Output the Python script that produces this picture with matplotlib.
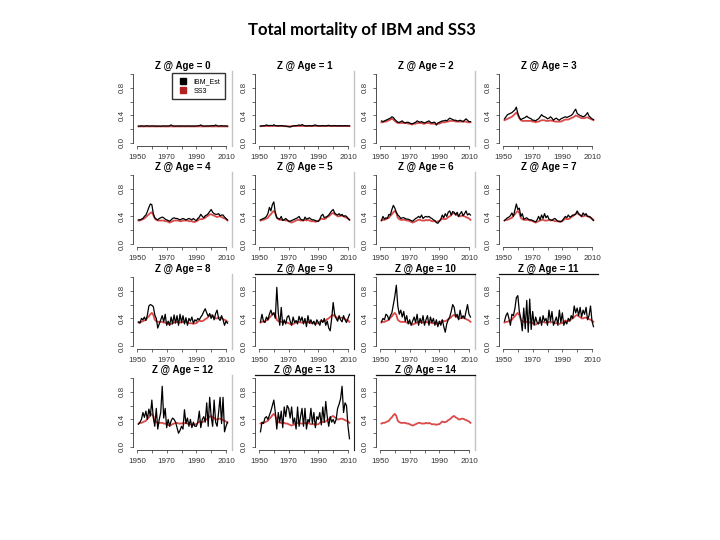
import matplotlib
matplotlib.use('Agg')
import matplotlib.pyplot as plt
from matplotlib.lines import Line2D

# years of the yearly series
years = list(range(1951, 2012))

# IBM estimates, by age
ibm_age0 = [0.245, 0.245, 0.248, 0.246, 0.245, 0.247, 0.250, 0.246, 0.245, 0.248,
            0.246, 0.245, 0.247, 0.244, 0.245, 0.243, 0.246, 0.248, 0.245, 0.247,
            0.246, 0.250, 0.262, 0.248, 0.246, 0.245, 0.247, 0.246, 0.248, 0.245,
            0.246, 0.247, 0.245, 0.248, 0.246, 0.245, 0.247, 0.246, 0.245, 0.247,
            0.248, 0.252, 0.262, 0.248, 0.246, 0.245, 0.247, 0.246, 0.248, 0.250,
            0.252, 0.248, 0.262, 0.250, 0.246, 0.247, 0.252, 0.246, 0.248, 0.246,
            0.245]
ibm_age1 = [0.245, 0.248, 0.250, 0.252, 0.262, 0.255, 0.250, 0.256, 0.250, 0.265,
            0.252, 0.250, 0.248, 0.250, 0.252, 0.250, 0.246, 0.244, 0.240, 0.236,
            0.232, 0.240, 0.248, 0.250, 0.252, 0.254, 0.262, 0.252, 0.268, 0.255,
            0.250, 0.248, 0.250, 0.252, 0.248, 0.250, 0.256, 0.262, 0.252, 0.250,
            0.248, 0.250, 0.252, 0.248, 0.250, 0.252, 0.256, 0.250, 0.248, 0.250,
            0.252, 0.250, 0.248, 0.250, 0.252, 0.248, 0.250, 0.252, 0.248, 0.250,
            0.248]
ibm_age2 = [0.32, 0.31, 0.32, 0.33, 0.34, 0.35, 0.36, 0.38, 0.37, 0.34,
            0.32, 0.30, 0.30, 0.31, 0.32, 0.30, 0.29, 0.30, 0.30, 0.29,
            0.28, 0.28, 0.29, 0.30, 0.32, 0.31, 0.30, 0.31, 0.30, 0.29,
            0.30, 0.31, 0.32, 0.30, 0.29, 0.30, 0.30, 0.26, 0.29, 0.30,
            0.31, 0.32, 0.32, 0.33, 0.32, 0.34, 0.36, 0.35, 0.34, 0.33,
            0.33, 0.32, 0.32, 0.33, 0.32, 0.31, 0.33, 0.35, 0.33, 0.31,
            0.31]
ibm_age3 = [0.35, 0.38, 0.41, 0.42, 0.43, 0.44, 0.46, 0.48, 0.52, 0.43,
            0.37, 0.34, 0.35, 0.36, 0.37, 0.39, 0.37, 0.36, 0.35, 0.33,
            0.33, 0.32, 0.34, 0.35, 0.38, 0.41, 0.39, 0.38, 0.37, 0.35,
            0.36, 0.38, 0.36, 0.33, 0.35, 0.36, 0.34, 0.33, 0.35, 0.36,
            0.37, 0.38, 0.37, 0.38, 0.39, 0.40, 0.42, 0.46, 0.49, 0.43,
            0.41, 0.40, 0.39, 0.38, 0.39, 0.41, 0.44, 0.39, 0.37, 0.35,
            0.34]
ibm_age4 = [0.35, 0.35, 0.36, 0.37, 0.40, 0.42, 0.47, 0.53, 0.58, 0.57,
            0.44, 0.38, 0.36, 0.35, 0.37, 0.38, 0.39, 0.38, 0.36, 0.35,
            0.34, 0.33, 0.35, 0.37, 0.38, 0.37, 0.37, 0.36, 0.35, 0.36,
            0.37, 0.36, 0.35, 0.36, 0.37, 0.36, 0.35, 0.37, 0.35, 0.34,
            0.37, 0.39, 0.43, 0.40, 0.38, 0.41, 0.42, 0.44, 0.47, 0.50,
            0.46, 0.44, 0.43, 0.43, 0.44, 0.41, 0.42, 0.42, 0.39, 0.37,
            0.35]
ibm_age5 = [0.35, 0.36, 0.37, 0.38, 0.40, 0.44, 0.53, 0.48, 0.57, 0.61,
            0.45, 0.38, 0.37, 0.36, 0.40, 0.34, 0.35, 0.37, 0.35, 0.33,
            0.33, 0.34, 0.35, 0.36, 0.37, 0.38, 0.40, 0.36, 0.35, 0.34,
            0.39, 0.36, 0.37, 0.38, 0.36, 0.35, 0.35, 0.34, 0.33, 0.33,
            0.36, 0.41, 0.43, 0.38, 0.39, 0.40, 0.42, 0.45, 0.48, 0.50,
            0.45, 0.43, 0.42, 0.44, 0.41, 0.43, 0.40, 0.41, 0.40, 0.37,
            0.35]
ibm_age6 = [0.34, 0.40, 0.36, 0.38, 0.37, 0.43, 0.42, 0.50, 0.56, 0.52,
            0.46, 0.42, 0.40, 0.37, 0.38, 0.38, 0.37, 0.36, 0.36, 0.35,
            0.34, 0.33, 0.35, 0.37, 0.38, 0.40, 0.38, 0.42, 0.37, 0.39,
            0.40, 0.39, 0.40, 0.38, 0.37, 0.35, 0.34, 0.31, 0.30, 0.33,
            0.36, 0.42, 0.38, 0.44, 0.40, 0.46, 0.48, 0.42, 0.47, 0.46,
            0.42, 0.46, 0.40, 0.44, 0.47, 0.41, 0.44, 0.48, 0.42, 0.44,
            0.42]
ibm_age7 = [0.34, 0.36, 0.38, 0.39, 0.41, 0.45, 0.40, 0.49, 0.58, 0.50,
            0.52, 0.40, 0.44, 0.36, 0.37, 0.38, 0.36, 0.35, 0.35, 0.34,
            0.33, 0.32, 0.35, 0.40, 0.35, 0.42, 0.37, 0.44, 0.38, 0.41,
            0.36, 0.35, 0.34, 0.36, 0.37, 0.35, 0.33, 0.33, 0.32, 0.34,
            0.37, 0.40, 0.38, 0.42, 0.39, 0.40, 0.42, 0.42, 0.43, 0.48,
            0.44, 0.42, 0.40, 0.45, 0.42, 0.44, 0.40, 0.40, 0.39, 0.36,
            0.34]
ibm_age8 = [0.35, 0.33, 0.40, 0.38, 0.42, 0.37, 0.45, 0.58, 0.60, 0.59,
            0.57, 0.45, 0.40, 0.26, 0.32, 0.38, 0.44, 0.35, 0.46, 0.30,
            0.36, 0.30, 0.42, 0.32, 0.45, 0.33, 0.44, 0.30, 0.46, 0.34,
            0.44, 0.32, 0.41, 0.30, 0.40, 0.36, 0.42, 0.33, 0.38, 0.36,
            0.40, 0.38, 0.42, 0.45, 0.50, 0.54, 0.48, 0.43, 0.47, 0.40,
            0.45, 0.38, 0.47, 0.52, 0.40, 0.37, 0.44, 0.38, 0.30, 0.36,
            0.33]
ibm_age9 = [0.35, 0.46, 0.36, 0.34, 0.42, 0.38, 0.46, 0.52, 0.45, 0.48,
            0.40, 0.85, 0.48, 0.30, 0.56, 0.30, 0.38, 0.32, 0.42, 0.44,
            0.36, 0.30, 0.42, 0.34, 0.37, 0.32, 0.43, 0.36, 0.42, 0.32,
            0.40, 0.28, 0.44, 0.33, 0.38, 0.32, 0.36, 0.30, 0.38, 0.34,
            0.30, 0.38, 0.34, 0.40, 0.30, 0.36, 0.26, 0.22, 0.40, 0.63,
            0.46, 0.40, 0.36, 0.44, 0.38, 0.35, 0.44, 0.38, 0.34, 0.40,
            0.46]
ibm_age10 = [0.35, 0.40, 0.38, 0.46, 0.44, 0.38, 0.44, 0.48, 0.60, 0.72,
             0.88, 0.58, 0.46, 0.52, 0.42, 0.50, 0.36, 0.44, 0.32, 0.38,
             0.30, 0.36, 0.42, 0.34, 0.46, 0.30, 0.40, 0.33, 0.44, 0.30,
             0.38, 0.44, 0.30, 0.42, 0.34, 0.40, 0.30, 0.38, 0.28, 0.36,
             0.30, 0.38, 0.28, 0.20, 0.32, 0.38, 0.42, 0.50, 0.60, 0.56,
             0.42, 0.46, 0.38, 0.52, 0.40, 0.44, 0.40, 0.50, 0.60, 0.46,
             0.42]
ibm_age11 = [0.36, 0.44, 0.48, 0.40, 0.30, 0.46, 0.44, 0.54, 0.70, 0.73,
             0.50, 0.40, 0.22, 0.55, 0.25, 0.66, 0.20, 0.68, 0.24, 0.50,
             0.30, 0.42, 0.34, 0.32, 0.42, 0.30, 0.44, 0.36, 0.40, 0.30,
             0.52, 0.36, 0.50, 0.30, 0.36, 0.42, 0.30, 0.52, 0.34, 0.48,
             0.30, 0.36, 0.32, 0.40, 0.36, 0.44, 0.40, 0.58, 0.48, 0.55,
             0.44, 0.56, 0.42, 0.52, 0.46, 0.56, 0.38, 0.44, 0.58, 0.36,
             0.28]
ibm_age12 = [0.33, 0.36, 0.40, 0.50, 0.43, 0.52, 0.40, 0.55, 0.45, 0.68,
             0.42, 0.30, 0.56, 0.26, 0.40, 0.50, 0.88, 0.42, 0.56, 0.28,
             0.40, 0.30, 0.38, 0.42, 0.40, 0.36, 0.28, 0.20, 0.24, 0.30,
             0.26, 0.54, 0.34, 0.42, 0.30, 0.40, 0.28, 0.36, 0.30, 0.30,
             0.36, 0.52, 0.28, 0.40, 0.44, 0.36, 0.64, 0.30, 0.72, 0.44,
             0.30, 0.68, 0.36, 0.30, 0.50, 0.72, 0.34, 0.72, 0.22, 0.30,
             0.36]
ibm_age13 = [0.22, 0.36, 0.34, 0.42, 0.44, 0.40, 0.46, 0.52, 0.60, 0.68,
             0.50, 0.26, 0.50, 0.36, 0.52, 0.28, 0.58, 0.44, 0.60, 0.56,
             0.42, 0.58, 0.34, 0.42, 0.26, 0.58, 0.30, 0.44, 0.56, 0.30,
             0.56, 0.26, 0.40, 0.36, 0.56, 0.34, 0.50, 0.28, 0.44, 0.40,
             0.50, 0.32, 0.58, 0.36, 0.66, 0.44, 0.30, 0.44, 0.36, 0.40,
             0.34, 0.40, 0.56, 0.62, 0.70, 0.88, 0.50, 0.64, 0.60, 0.30,
             0.12]

# SS3 estimates
ss3_age0 = [0.240, 0.240, 0.241, 0.240, 0.240, 0.241, 0.241, 0.240, 0.240, 0.241,
            0.241, 0.240, 0.240, 0.240, 0.241, 0.240, 0.240, 0.241, 0.240, 0.240,
            0.240, 0.241, 0.241, 0.240, 0.240, 0.240, 0.241, 0.240, 0.240, 0.240,
            0.241, 0.240, 0.240, 0.240, 0.241, 0.240, 0.240, 0.240, 0.240, 0.241,
            0.241, 0.241, 0.241, 0.240, 0.240, 0.241, 0.241, 0.241, 0.241, 0.241,
            0.240, 0.240, 0.241, 0.241, 0.240, 0.240, 0.240, 0.241, 0.240, 0.240,
            0.240]
ss3_age1 = [0.244, 0.244, 0.245, 0.245, 0.246, 0.246, 0.246, 0.247, 0.247, 0.247,
            0.246, 0.246, 0.245, 0.245, 0.245, 0.245, 0.244, 0.243, 0.242, 0.242,
            0.242, 0.243, 0.244, 0.245, 0.245, 0.246, 0.246, 0.246, 0.246, 0.246,
            0.245, 0.245, 0.245, 0.245, 0.245, 0.245, 0.246, 0.246, 0.246, 0.245,
            0.245, 0.245, 0.245, 0.245, 0.245, 0.245, 0.246, 0.246, 0.246, 0.246,
            0.246, 0.245, 0.245, 0.245, 0.245, 0.245, 0.245, 0.245, 0.245, 0.245,
            0.245]
ss3_age2 = [0.30, 0.30, 0.31, 0.31, 0.32, 0.33, 0.34, 0.35, 0.34, 0.32,
            0.30, 0.29, 0.29, 0.29, 0.29, 0.29, 0.29, 0.29, 0.28, 0.28,
            0.27, 0.27, 0.28, 0.28, 0.29, 0.29, 0.29, 0.29, 0.28, 0.28,
            0.29, 0.29, 0.29, 0.28, 0.28, 0.28, 0.28, 0.27, 0.28, 0.28,
            0.29, 0.30, 0.30, 0.30, 0.31, 0.31, 0.32, 0.32, 0.32, 0.32,
            0.31, 0.31, 0.31, 0.31, 0.31, 0.31, 0.31, 0.31, 0.30, 0.30,
            0.30]
ss3_age3 = [0.33, 0.34, 0.35, 0.36, 0.37, 0.38, 0.40, 0.42, 0.44, 0.41,
            0.36, 0.33, 0.32, 0.32, 0.32, 0.32, 0.32, 0.32, 0.32, 0.31,
            0.31, 0.30, 0.31, 0.31, 0.32, 0.33, 0.33, 0.33, 0.32, 0.32,
            0.32, 0.33, 0.32, 0.32, 0.31, 0.31, 0.31, 0.31, 0.31, 0.32,
            0.33, 0.34, 0.34, 0.34, 0.35, 0.36, 0.37, 0.38, 0.40, 0.39,
            0.38, 0.37, 0.36, 0.36, 0.36, 0.37, 0.37, 0.36, 0.35, 0.34,
            0.33]
ss3_age4 = [0.34, 0.34, 0.35, 0.36, 0.37, 0.39, 0.41, 0.43, 0.45, 0.46,
            0.42, 0.37, 0.35, 0.34, 0.34, 0.34, 0.34, 0.34, 0.33, 0.33,
            0.32, 0.31, 0.32, 0.33, 0.34, 0.34, 0.34, 0.34, 0.33, 0.33,
            0.34, 0.34, 0.34, 0.34, 0.33, 0.33, 0.33, 0.32, 0.32, 0.33,
            0.34, 0.36, 0.36, 0.36, 0.37, 0.38, 0.40, 0.41, 0.43, 0.43,
            0.42, 0.41, 0.40, 0.39, 0.40, 0.40, 0.39, 0.38, 0.37, 0.36,
            0.34]
# ages 5+ share practically the same SS3 curve
ss3_adult = [0.34, 0.35, 0.35, 0.36, 0.37, 0.38, 0.41, 0.43, 0.46, 0.48,
             0.45, 0.38, 0.36, 0.35, 0.35, 0.35, 0.35, 0.34, 0.34, 0.33,
             0.32, 0.31, 0.32, 0.33, 0.34, 0.35, 0.35, 0.34, 0.34, 0.34,
             0.35, 0.34, 0.35, 0.34, 0.33, 0.33, 0.33, 0.32, 0.33, 0.33,
             0.35, 0.37, 0.36, 0.36, 0.37, 0.39, 0.40, 0.42, 0.44, 0.45,
             0.43, 0.42, 0.40, 0.40, 0.41, 0.41, 0.40, 0.39, 0.38, 0.37,
             0.35]

ages = list(range(15))
ibm = [ibm_age0, ibm_age1, ibm_age2, ibm_age3, ibm_age4, ibm_age5, ibm_age6,
       ibm_age7, ibm_age8, ibm_age9, ibm_age10, ibm_age11, ibm_age12, ibm_age13,
       None]  # no IBM line for age 14
ss3 = [ss3_age0, ss3_age1, ss3_age2, ss3_age3, ss3_age4] + [ss3_adult] * 10

x_ticks = [1950, 1960, 1970, 1980, 1990, 2000, 2010]
x_labels = ['1950', '', '1970', '', '1990', '', '2010']
y_ticks = [0.0, 0.2, 0.4, 0.6, 0.8, 1.0]
y_labels = ['0.0', '', '0.4', '', '0.8', '']

RED = '#d42a2a'
W, H = 720., 540.
x1950 = [137, 259, 380, 503]   # pixel x of the 1950 tick per column
y_zero = [143, 244, 346, 447]  # pixel y of 0.0 per row
ppy = 89 / 60.
ppu = 69.
xlo, xhi = 1947.3, 2014.0
ylo, yhi = -0.04, 1.04

# leftover frame edges from the pasted images
grey_right = [0, 1, 2, 4, 5, 6, 8, 10, 12, 14]
dark_right = [9, 13]
dark_top = [9, 10, 11, 13, 14]

fig = plt.figure(figsize=(7.2, 5.4), dpi=100)
fig.text(362 / W, 1 - 30 / H, 'Total mortality of IBM and SS3', ha='center', va='center',
         fontsize=12, fontweight='bold', family='Lato')

for i, age in enumerate(ages):
    r, c = divmod(i, 4)
    left = x1950[c] - (1950 - xlo) * ppy
    width = (xhi - xlo) * ppy
    top = y_zero[r] - yhi * ppu
    height = (yhi - ylo) * ppu
    ax = fig.add_axes([left / W, 1 - (top + height) / H, width / W, height / H])

    ax.plot(years, ss3[i], color=RED, lw=1.3, alpha=0.85, zorder=2)
    if ibm[i] is not None:
        ax.plot(years, ibm[i], color='black', lw=0.9, zorder=3)

    ax.set_xlim(xlo, xhi)
    ax.set_ylim(ylo, yhi)
    ax.set_xticks(x_ticks)
    ax.set_xticklabels(x_labels)
    ax.set_yticks(y_ticks)
    ax.set_yticklabels(y_labels, rotation=90, va='center')
    ax.tick_params(labelsize=5.8, length=2.4, width=0.5, colors='#333333', pad=3.5)
    ax.tick_params(axis='y', pad=2.5)
    for lab in ax.get_xticklabels() + ax.get_yticklabels():
        lab.set_family('Liberation Sans')

    ax.spines['left'].set_bounds(0, 1)
    ax.spines['bottom'].set_bounds(1950, 2010)
    for s in ['left', 'bottom']:
        ax.spines[s].set_linewidth(0.6)
        ax.spines[s].set_color('#333333')
    ax.spines['top'].set_visible(age in dark_top)
    ax.spines['top'].set_color('#111111')
    ax.spines['top'].set_linewidth(0.9)
    if age in dark_right:
        ax.spines['right'].set_color('#222222')
        ax.spines['right'].set_linewidth(0.8)
    elif age in grey_right:
        ax.spines['right'].set_color('#c4c4c4')
        ax.spines['right'].set_linewidth(1.0)
    else:
        ax.spines['right'].set_visible(False)

    ax.set_title('Z @ Age = %d' % age, fontsize=7, fontweight='bold',
                 family='Liberation Sans', pad=1.5)

    if age == 0:
        handles = [Line2D([], [], marker='s', ls='none', color='black', markersize=4),
                   Line2D([], [], marker='s', ls='none', color='#b22222', markersize=4)]
        ax.legend(handles, ['IBM_Est', 'SS3'], loc='upper right',
                  bbox_to_anchor=(1 - 7 / width, 1 - 2 / height), borderaxespad=0,
                  fancybox=False, edgecolor='#333333', framealpha=1,
                  handletextpad=0.4, borderpad=0.7, labelspacing=0.35,
                  prop={'family': 'Liberation Sans', 'size': 5})

fig.savefig('out.png', dpi=100)
